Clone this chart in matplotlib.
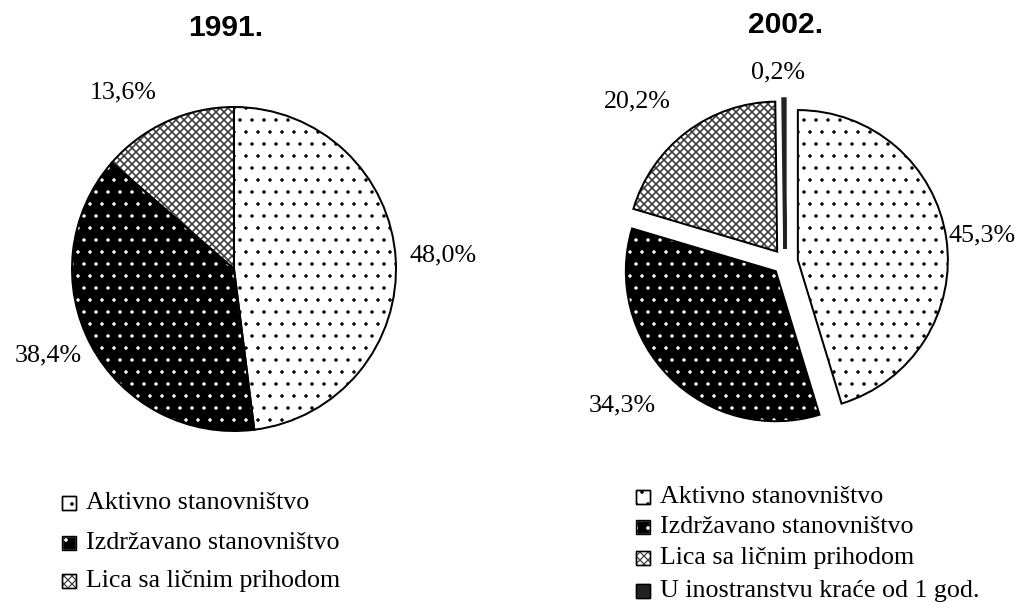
import matplotlib

matplotlib.use("Agg")
from matplotlib import pyplot as plt
from matplotlib.patches import Rectangle

# data
years = ["1991.", "2002."]
categories_1991 = [
    "Aktivno stanovništvo",
    "Izdržavano stanovništvo",
    "Lica sa ličnim prihodom",
]
values_1991 = [48.0, 38.4, 13.6]
categories_2002 = [
    "Aktivno stanovništvo",
    "Izdržavano stanovništvo",
    "Lica sa ličnim prihodom",
    "U inostranstvu kraće od 1 god.",
]
values_2002 = [45.3, 34.3, 20.2, 0.2]

# fill style per category: (face, hatch colour, hatch)
styles = {
    "Aktivno stanovništvo": ("white", "black", "."),
    "Izdržavano stanovništvo": ("black", "white", "."),
    "Lica sa ličnim prihodom": ("white", "#3a3a3a", "xxx"),
    "U inostranstvu kraće od 1 god.": ("#222222", "#222222", None),
}

# layout, in pixels from the top-left corner
W, H = 1023, 606
DPI = 72  # 1 pt == 1 px, and hatch cells come out ~12 px
SERIF = "Liberation Serif"
label_xy_1991 = [(443, 255), (48, 355), (123, 92)]
label_xy_2002 = [(982, 235), (622, 405), (637, 101), (778, 72)]


def fmt(v):
    return f"{v:.1f}%".replace(".", ",")


def set_hatch_style(patch, color, hatch, lw):
    patch.set_edgecolor(color)
    if hatch:
        patch.set_hatch(hatch)
        if hasattr(patch, "set_hatch_linewidth"):
            patch.set_hatch_linewidth(lw)


def draw_pie(ax, cats, vals, center, radius, explode, label_xy):
    fills, hatch_cols, hatches = zip(*(styles[c] for c in cats))
    wedges, _ = ax.pie(
        vals,
        colors=fills,
        startangle=90,
        counterclock=False,
        center=center,
        radius=radius,
        explode=explode,
        wedgeprops=dict(linewidth=0),
    )
    for w, hc, h in zip(wedges, hatch_cols, hatches):
        set_hatch_style(w, hc, h, 1.6 if h == "xxx" else 1.0)
    # black outline on top
    outlines, _ = ax.pie(
        vals,
        colors=["none"] * len(vals),
        startangle=90,
        counterclock=False,
        center=center,
        radius=radius,
        explode=explode,
        wedgeprops=dict(linewidth=2.0, edgecolor="black"),
    )
    # very thin slices still need to show up as a bar
    for w, v in zip(outlines, vals):
        if v < 1:
            w.set_linewidth(3.5)
            w.set_edgecolor("#222222")
    for v, (x, y) in zip(vals, label_xy):
        ax.text(x, H - y, fmt(v), fontsize=26, family=SERIF,
                ha="center", va="center")


def draw_legend(ax, cats, x, ys, size):
    for c, y in zip(cats, ys):
        face, hc, h = styles[c]
        r = Rectangle((x, H - y - 7), 14, 14, facecolor=face,
                      linewidth=1.4)
        set_hatch_style(r, hc, h, 1.2)
        ax.add_patch(r)
        # outline drawn separately so the hatch colour can differ
        ax.add_patch(Rectangle((x, H - y - 7), 14, 14, facecolor="none",
                               edgecolor="black", linewidth=1.4))
        ax.text(x + 24, H - y, c, fontsize=size, family=SERIF,
                va="center", ha="left")


fig = plt.figure(figsize=(W / DPI, H / DPI), dpi=DPI)
ax = fig.add_axes([0, 0, 1, 1])

draw_pie(ax, categories_1991, values_1991, (234, H - 269), 162,
         [0, 0, 0], label_xy_1991)
draw_pie(ax, categories_2002, values_2002, (785, H - 262), 150,
         [13] * 4, label_xy_2002)

ax.text(226, H - 28, years[0], fontsize=30, fontweight="bold",
        family="Liberation Sans", ha="center", va="center")
ax.text(786, H - 25, years[1], fontsize=30, fontweight="bold",
        family="Liberation Sans", ha="center", va="center")

draw_legend(ax, categories_1991, 62, [503, 543, 581], 26)
draw_legend(ax, categories_2002, 636, [497, 527, 558, 591], 26)

ax.set_xlim(0, W)
ax.set_ylim(0, H)
ax.set_aspect("equal")
ax.set_axis_off()

fig.savefig("out.png", dpi=DPI, facecolor="white")
